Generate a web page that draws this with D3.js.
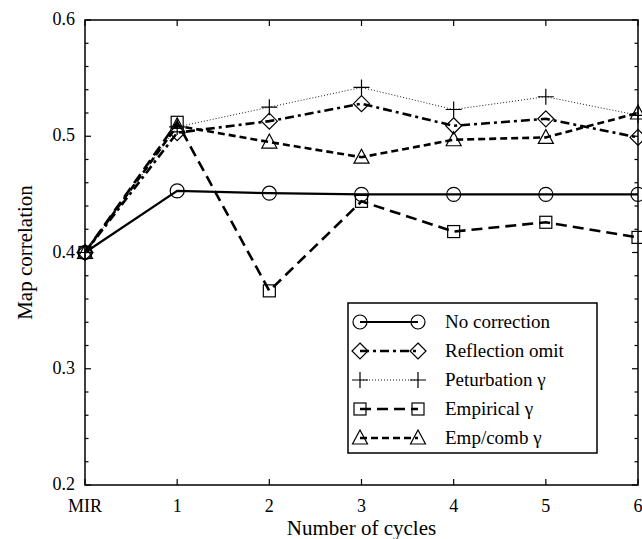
<!DOCTYPE html>
<html>
<head>
<meta charset="utf-8">
<script src="https://cdn.jsdelivr.net/npm/d3@7"></script>
<style>
  body { margin: 0; background: #fff; }
  svg text { font-family: "Liberation Serif", "Times New Roman", serif; fill: #000; }
</style>
</head>
<body>
<svg id="chart" width="642" height="539"></svg>
<script>
const cycles = ['MIR', '1', '2', '3', '4', '5', '6']
const noCorrection = [0.400, 0.453, 0.451, 0.450, 0.450, 0.450, 0.450]
const reflectionOmit = [0.400, 0.503, 0.513, 0.528, 0.509, 0.515, 0.499]
const perturbation = [0.400, 0.508, 0.525, 0.542, 0.523, 0.534, 0.518]
const empirical = [0.400, 0.512, 0.367, 0.444, 0.418, 0.426, 0.413]
const empComb = [0.400, 0.509, 0.495, 0.482, 0.497, 0.499, 0.520]
const yTicks = [0.2, 0.3, 0.4, 0.5, 0.6]

const series = [
  { name: 'No correction', values: noCorrection, marker: 'circle', dash: null, width: 2.2 },
  { name: 'Reflection omit', values: reflectionOmit, marker: 'diamond', dash: '9,4,3,4', width: 2.6 },
  { name: 'Peturbation \u03b3', values: perturbation, marker: 'plus', dash: '1,2', width: 0.9 },
  { name: 'Empirical \u03b3', values: empirical, marker: 'square', dash: '11,6', width: 2.6 },
  { name: 'Emp/comb \u03b3', values: empComb, marker: 'triangle', dash: '7,4', width: 2.6 },
]

const margin = { left: 85, right: 4, top: 20, bottom: 54 }
const svg = d3.select('#chart')
const W = +svg.attr('width'), H = +svg.attr('height')
const x = d3.scaleLinear().domain([0, 6]).range([margin.left, W - margin.right])
const y = d3.scaleLinear().domain([0.2, 0.6]).range([H - margin.bottom, margin.top])
const minor = d3.range(0.2, 0.6001, 0.02)

// frame + ticks (inward, matlab style)
const g = svg.append('g')
g.append('rect')
  .attr('x', x(0)).attr('y', y(0.6))
  .attr('width', x(6) - x(0)).attr('height', y(0.2) - y(0.6))
  .attr('fill', 'none').attr('stroke', '#000').attr('stroke-width', 1.5)

const tickStroke = (sel) => sel.attr('stroke', '#000').attr('stroke-width', 1.2)
minor.forEach((v) => {
  const len = yTicks.some((t) => Math.abs(t - v) < 1e-6) ? 6 : 3.5
  tickStroke(g.append('line').attr('x1', x(0)).attr('x2', x(0) + len).attr('y1', y(v)).attr('y2', y(v)))
  tickStroke(g.append('line').attr('x1', x(6)).attr('x2', x(6) - len).attr('y1', y(v)).attr('y2', y(v)))
})
d3.range(0, 7).forEach((i) => {
  tickStroke(g.append('line').attr('x1', x(i)).attr('x2', x(i)).attr('y1', y(0.2)).attr('y2', y(0.2) - 6))
  tickStroke(g.append('line').attr('x1', x(i)).attr('x2', x(i)).attr('y1', y(0.6)).attr('y2', y(0.6) + 6))
})

g.selectAll('.ylab').data(yTicks).join('text')
  .attr('x', x(0) - 10).attr('y', (d) => y(d) + 5)
  .attr('text-anchor', 'end').attr('font-size', 18)
  .text((d) => d.toFixed(1))

g.selectAll('.xlab').data(cycles).join('text')
  .attr('x', (d, i) => x(i)).attr('y', y(0.2) + 27)
  .attr('text-anchor', 'middle').attr('font-size', 18)
  .text((d) => d)

svg.append('text')
  .attr('x', (x(0) + x(6)) / 2).attr('y', 535)
  .attr('text-anchor', 'middle').attr('font-size', 21)
  .text('Number of cycles')

svg.append('text')
  .attr('transform', `translate(32,${(y(0.2) + y(0.6)) / 2}) rotate(-90)`)
  .attr('text-anchor', 'middle').attr('font-size', 21)
  .text('Map correlation')

// markers
function drawMarker(sel, type, cx, cy) {
  const m = sel.append('g').attr('transform', `translate(${cx},${cy})`)
    .attr('fill', 'none').attr('stroke', '#000').attr('stroke-width', 1.2)
  if (type === 'circle') m.append('circle').attr('r', 7)
  if (type === 'diamond') m.append('path').attr('d', 'M0,-8L8,0L0,8L-8,0Z')
  if (type === 'plus') m.append('path').attr('d', 'M-8,0H8M0,-8V8')
  if (type === 'square') m.append('rect').attr('x', -6).attr('y', -6).attr('width', 12).attr('height', 12)
  if (type === 'triangle') m.append('path').attr('d', 'M0,-8L7.5,6L-7.5,6Z')
}

const line = d3.line().x((d, i) => x(i)).y((d) => y(d))
series.forEach((s) => {
  const sg = svg.append('g')
  sg.append('path').datum(s.values).attr('d', line)
    .attr('fill', 'none').attr('stroke', '#000')
    .attr('stroke-width', s.width).attr('stroke-dasharray', s.dash)
  s.values.forEach((v, i) => drawMarker(sg, s.marker, x(i), y(v)))
})

// legend
const lg = svg.append('g').attr('transform', 'translate(348,303)')
lg.append('rect').attr('width', 249).attr('height', 150)
  .attr('fill', '#fff').attr('stroke', '#000').attr('stroke-width', 1.5)
series.forEach((s, i) => {
  const ly = 19 + i * 29
  lg.append('line').attr('x1', 12).attr('x2', 70).attr('y1', ly).attr('y2', ly)
    .attr('stroke', '#000').attr('stroke-width', s.width).attr('stroke-dasharray', s.dash)
  drawMarker(lg, s.marker, 12, ly)
  drawMarker(lg, s.marker, 70, ly)
  lg.append('text').attr('x', 97).attr('y', ly + 6).attr('font-size', 19).text(s.name)
})
</script>
</body>
</html>
